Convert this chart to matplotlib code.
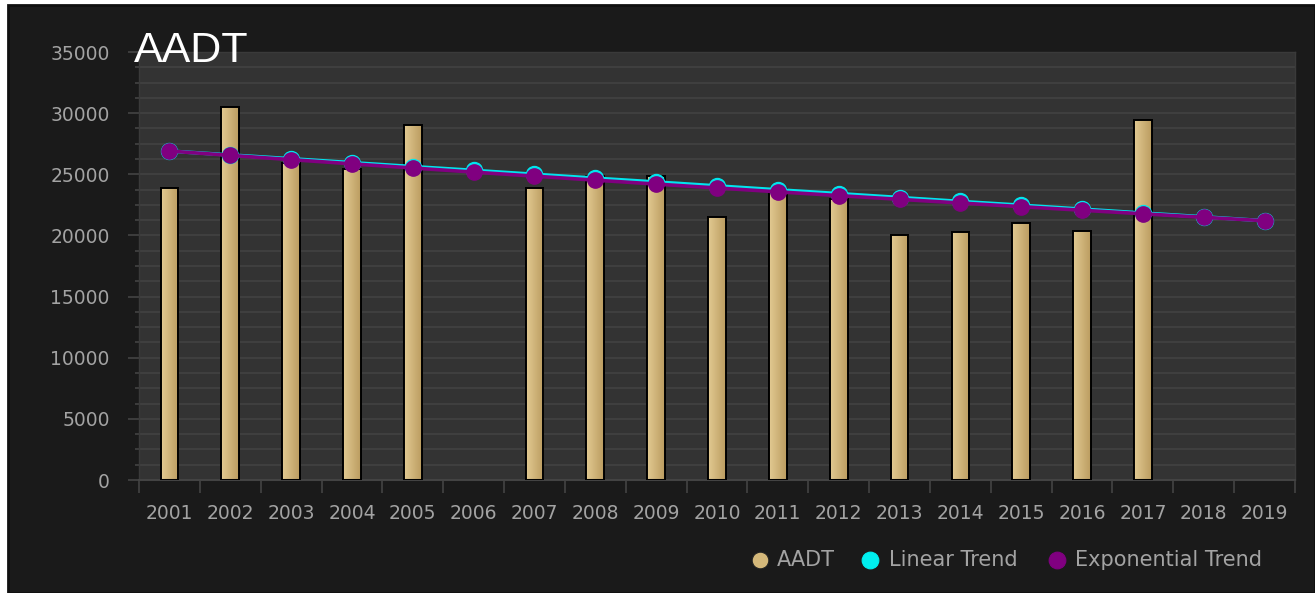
import numpy as np
import matplotlib
matplotlib.use("Agg")
import matplotlib.pyplot as plt
from matplotlib.patches import Rectangle
from matplotlib.lines import Line2D
from matplotlib.colors import LinearSegmentedColormap

# ---- data ----
years = ["2001", "2002", "2003", "2004", "2005", "2006", "2007", "2008", "2009", "2010",
         "2011", "2012", "2013", "2014", "2015", "2016", "2017", "2018", "2019"]
aadt = [23900, 30500, 25900, 25400, 29000, np.nan, 23900, 24900, 24900, 21500,
        23800, 23000, 20000, 20300, 21000, 20400, 29400, np.nan, np.nan]
linear_trend = [26900, 26580, 26270, 25950, 25630, 25320, 25000, 24680, 24370, 24050,
                23730, 23420, 23100, 22780, 22470, 22150, 21830, 21520, 21200]
exp_trend = [26900, 26547, 26198, 25854, 25514, 25179, 24848, 24521, 24199, 23881,
             23567, 23258, 22952, 22650, 22353, 22059, 21769, 21483, 21201]
y_ticks = [0, 5000, 10000, 15000, 20000, 25000, 30000, 35000]
legend_labels = ["AADT", "Linear Trend", "Exponential Trend"]

# ---- style ----
FIG_BG = "#1a1a1a"
PLOT_BG = "#333333"
GRID = "#434343"
TICK_TXT = "#a3a3a3"
BAR_LIGHT = "#e2ca92"
BAR_DARK = "#bb9c60"
CYAN = "#00e5ee"
PURPLE = "#800080"

W, H = 1315, 593
fig = plt.figure(figsize=(W / 100, H / 100), dpi=100, facecolor="white")

# dark panel with a white margin on the left and top
panel = Rectangle((8 / W, 0), 1 - 8 / W, 1 - 5 / H, transform=fig.transFigure,
                  facecolor=FIG_BG, edgecolor="#0f0f0f", linewidth=2, zorder=-10)
fig.patches.append(panel)

ax = fig.add_axes([139 / W, 1 - 480 / H, (1295 - 139) / W, (480 - 52) / H])
ax.set_facecolor(PLOT_BG)

x = np.arange(len(years))
ax.set_xlim(-0.5, len(years) - 0.5)
ax.set_ylim(0, 35000)

# horizontal grid, major every 5000 and minor every 1250
ax.set_yticks(y_ticks)
ax.set_yticks(np.arange(0, 35001, 1250), minor=True)
ax.yaxis.grid(True, which="both", color=GRID, linewidth=1.1, zorder=0)
ax.set_axisbelow(True)
ax.tick_params(axis="y", which="major", colors=GRID, length=8, width=1.2,
               labelcolor=TICK_TXT, labelsize=13.5, pad=13)
ax.tick_params(axis="y", which="minor", colors=GRID, length=3, width=1.2)

# x ticks sit between categories, labels at category centres
ax.set_xticks(x)
ax.set_xticklabels(years)
ax.set_xticks(np.arange(-0.5, len(years), 1.0), minor=True)
ax.tick_params(axis="x", which="major", length=0, labelcolor=TICK_TXT, labelsize=13.5, pad=17)
ax.tick_params(axis="x", which="minor", colors=GRID, length=9, width=1.2)

for side in ["top", "right", "left"]:
    ax.spines[side].set_color("#3a3a3a")
    ax.spines[side].set_linewidth(1)
ax.spines["bottom"].set_color(GRID)
ax.spines["bottom"].set_linewidth(1.5)

# bars with a horizontal light-to-dark gradient
bars = ax.bar(x, aadt, width=0.29, color=BAR_LIGHT, edgecolor="black", linewidth=1.4, zorder=2)
grad_cmap = LinearSegmentedColormap.from_list("tan", [BAR_LIGHT, BAR_DARK])
grad = np.linspace(0, 1, 64).reshape(1, -1)
for b in bars:
    h = b.get_height()
    if not np.isfinite(h):
        continue
    x0 = b.get_x()
    w = b.get_width()
    im = ax.imshow(grad, cmap=grad_cmap, aspect="auto", extent=(x0, x0 + w, 0, h),
                   zorder=2.5, interpolation="bicubic")
    im.set_clip_path(b)
    ax.add_patch(Rectangle((x0, 0), w, h, fill=False, edgecolor="black",
                           linewidth=1.4, zorder=2.6))

# trend lines
ax.plot(x, linear_trend, color=CYAN, linewidth=2.6, marker="o", markersize=11.5,
        markerfacecolor=CYAN, markeredgecolor=CYAN, zorder=4)
ax.plot(x, exp_trend, color=PURPLE, linewidth=2.6, marker="o", markersize=11,
        markerfacecolor=PURPLE, markeredgecolor=PURPLE, zorder=5)

# title
fig.text(134 / W, 1 - 62 / H, "AADT", color="white", fontsize=31,
         family="Liberation Sans", ha="left", va="baseline")

# legend row: marker then label, laid out left to right
legend_colors = ["#d4b87a", "#00f0f0", PURPLE]
legend_edges = ["#222222", "#00f0f0", PURPLE]
marker_x = [760, 870, 1057]
text_x = [777, 889, 1075]
ly = 1 - 560 / H
for lab, fc, ec, mx, tx in zip(legend_labels, legend_colors, legend_edges, marker_x, text_x):
    fig.add_artist(Line2D([mx / W], [ly], transform=fig.transFigure, linestyle="none",
                          marker="o", markersize=12, markerfacecolor=fc,
                          markeredgecolor=ec, markeredgewidth=0.8))
    fig.text(tx / W, ly, lab, color=TICK_TXT, fontsize=15, ha="left", va="center")

fig.savefig("out.png", dpi=100, facecolor=fig.get_facecolor())
